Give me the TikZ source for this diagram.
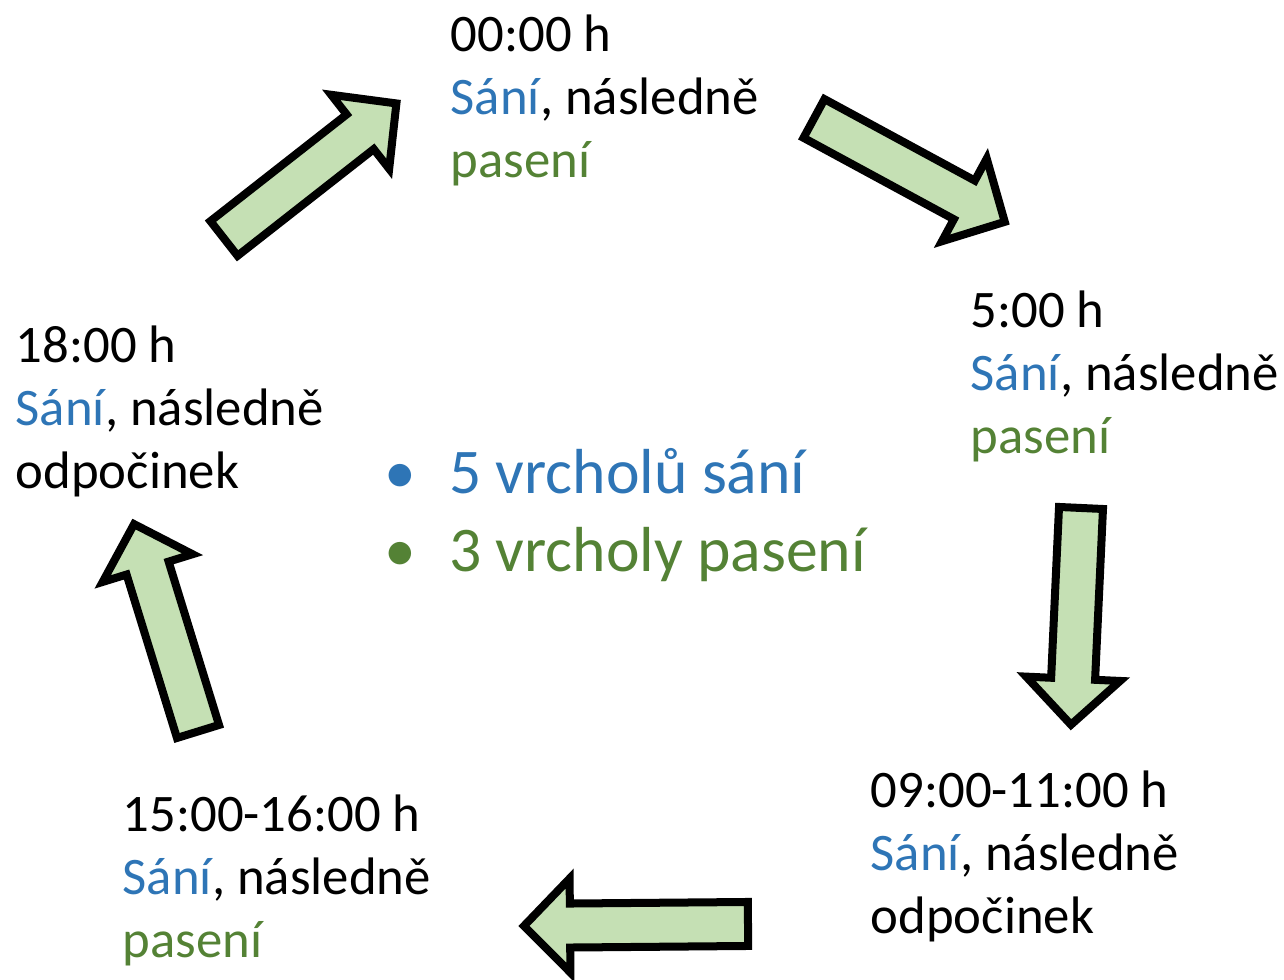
\documentclass[tikz,border=0pt]{standalone}
\usepackage{fontspec}
\setmainfont{Carlito}
\usetikzlibrary{positioning}
\definecolor{saniblue}{HTML}{2E75B6}
\definecolor{pasgreen}{HTML}{548235}
\definecolor{arrowfill}{HTML}{C5E0B4}
\newcommand{\sani}{\textcolor{saniblue}{Sání}}
\newcommand{\pas}{\textcolor{pasgreen}{pasení}}
% block arrow: tail point, angle, length
\newcommand{\greenarrow}[3]{%
  \draw[arrowbox,shift={(#1)},rotate=#2] (0,-22) -- ({#3-46},-22) -- ({#3-46},-47) -- (#3,0)
    -- ({#3-46},47) -- ({#3-46},22) -- (0,22) -- cycle;}

\begin{document}
\begin{tikzpicture}[x=0.01cm,y=0.01cm,
    arrowbox/.style={draw=black,fill=arrowfill,line width=0.08cm,line join=miter},
    phase/.style={anchor=north west,inner sep=0pt,align=left,font=\fontsize{15}{17.9}\selectfont},
    peaks/.style={anchor=north west,inner sep=0pt,align=left,font=\fontsize{18.1}{22.1}\selectfont}]
  \useasboundingbox (0,0) rectangle (1284,980);

  % Phases of the day
  \node[phase] (midnight) at (450,966) {00:00 h\\\sani, následně\\\pas};
  \node[phase] (morning) at (970,690) {5:00 h\\\sani, následně\\\pas};
  \node[phase] (noon) at (870,210) {09:00-11:00 h\\\sani, následně\\odpočinek};
  \node[phase] (afternoon) at (122,186) {15:00-16:00 h\\\sani, následně\\\pas};
  \node[phase] (evening) at (15,655) {18:00 h\\\sani, následně\\odpočinek};

  % Summary
  \node[peaks] (peaks) at (384,532)
    {\textcolor{saniblue}{•\hspace{9.3pt}5 vrcholů sání}\\\textcolor{pasgreen}{•\hspace{9.3pt}3 vrcholy pasení}};

  % Arrows
  \greenarrow{224,741.5}{38.07}{219}
  \greenarrow{814,861.5}{-28.45}{217}
  \greenarrow{1081,472}{-92.64}{217}
  \greenarrow{748,56}{180.5}{224}
  \greenarrow{198,248.5}{107.14}{217}
\end{tikzpicture}
\end{document}
